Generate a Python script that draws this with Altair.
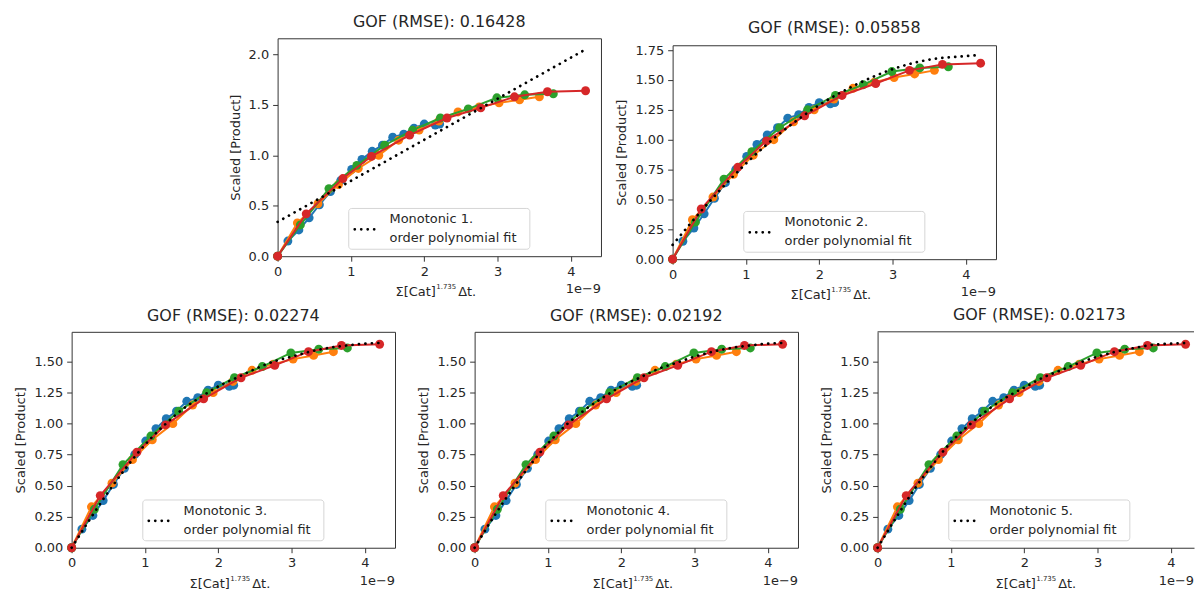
import altair as alt
import pandas as pd

# Four experiments: x is the cumulative sum of [Cat]^1.735 * dt (in units of 1e-9)
blue_x = [0, 0.14, 0.29, 0.43, 0.57, 0.72, 0.86, 1.01, 1.15, 1.29, 1.43, 1.57, 1.72, 1.86, 2.00, 2.15, 2.21]
blue_y = [0, 0.15, 0.26, 0.38, 0.51, 0.64, 0.75, 0.86, 0.96, 1.04, 1.10, 1.18, 1.21, 1.27, 1.31, 1.30, 1.31]

orange_x = [0, 0.27, 0.55, 0.83, 1.10, 1.38, 1.65, 1.93, 2.20, 2.46, 2.75, 3.02, 3.30, 3.57]
orange_y = [0, 0.33, 0.52, 0.71, 0.87, 1.00, 1.15, 1.25, 1.34, 1.43, 1.48, 1.52, 1.55, 1.58]

green_x = [0, 0.31, 0.70, 1.08, 1.46, 1.84, 2.22, 2.60, 2.99, 3.37, 3.76]
green_y = [0, 0.31, 0.67, 0.90, 1.10, 1.25, 1.37, 1.46, 1.57, 1.60, 1.61]

red_x = [0, 0.39, 0.89, 1.28, 1.80, 2.31, 2.77, 3.23, 3.68, 4.20]
red_y = [0, 0.42, 0.77, 0.99, 1.20, 1.37, 1.47, 1.58, 1.63, 1.64]

# Monotonic polynomial fits of order 1..5
fit1_x = [0, 4.2]
fit1_y = [0.34, 2.05]

fit2_x = [0, 0.5, 1.0, 1.5, 2.0, 2.5, 3.0, 3.5, 4.0, 4.2]
fit2_y = [0.12, 0.48, 0.80, 1.07, 1.29, 1.46, 1.59, 1.67, 1.70, 1.71]

fit_x = [0, 0.25, 0.5, 0.75, 1.0, 1.25, 1.5, 1.75, 2.0, 2.25, 2.5, 2.75, 3.0, 3.25, 3.5, 3.75, 4.0, 4.2]
fit3_y = [0, 0.23, 0.45, 0.65, 0.83, 0.98, 1.11, 1.21, 1.30, 1.37, 1.44, 1.50, 1.54, 1.58, 1.61, 1.63, 1.645, 1.65]
fit4_y = [0, 0.24, 0.46, 0.66, 0.84, 0.99, 1.11, 1.21, 1.30, 1.37, 1.44, 1.49, 1.54, 1.58, 1.61, 1.63, 1.645, 1.65]
fit5_y = [0, 0.24, 0.47, 0.67, 0.85, 0.99, 1.11, 1.21, 1.29, 1.37, 1.43, 1.49, 1.54, 1.58, 1.61, 1.635, 1.645, 1.65]

gof = ["0.16428", "0.05858", "0.02274", "0.02192", "0.02173"]
x_ticks = [0, 1, 2, 3, 4]

SERIES = [
    (blue_x, blue_y, "#1f77b4"),
    (orange_x, orange_y, "#ff7f0e"),
    (green_x, green_y, "#2ca02c"),
    (red_x, red_y, "#d62728"),
]

FONT = "DejaVu Sans"
INK = "#262626"
SPINE = "#333"
W = 325          # full axes width
X_MAX = 4.41     # x limit of a full-width axes
one = pd.DataFrame({"k": [0]})


def panel(order, fx, fy, height, y_max, y_ticks, y_fmt, w=W):
    # a narrower panel keeps the same px-per-unit and simply ends earlier (open on the right)
    open_right = w < W
    x_hi = X_MAX * w / W
    xs = alt.X("x:Q", scale=alt.Scale(domain=[0, x_hi], nice=False, zero=False),
               axis=alt.Axis(values=x_ticks, format="d", title=None, grid=False,
                             domain=open_right, domainColor=SPINE, domainWidth=1,
                             tickSize=5, tickColor=SPINE, labelPadding=4, labelFontSize=13,
                             labelFont=FONT, labelColor=INK, labelFlush=False))
    ys = alt.Y("y:Q", scale=alt.Scale(domain=[0, y_max], nice=False, zero=False),
               axis=alt.Axis(values=y_ticks, format=y_fmt, title="Scaled [Product]", grid=False,
                             domain=open_right, domainColor=SPINE, domainWidth=1,
                             tickSize=5, tickColor=SPINE, labelPadding=4,
                             labelFontSize=13, labelFont=FONT, labelColor=INK, titleFont=FONT,
                             titleFontSize=13, titleFontWeight="normal", titleColor=INK,
                             titlePadding=6, labelFlush=False))
    layers = []
    for sx, sy, col in SERIES:
        df = pd.DataFrame({"x": sx, "y": sy})
        layers.append(
            alt.Chart(df).mark_line(
                color=col, strokeWidth=2,
                point=alt.OverlayMarkDef(filled=True, size=80, color=col, opacity=1),
            ).encode(x=xs, y=ys)
        )
    fdf = pd.DataFrame({"x": fx, "y": fy})
    layers.append(
        alt.Chart(fdf).mark_line(color="black", strokeWidth=2.7, strokeDash=[0.1, 6.4],
                                 strokeCap="round", interpolate="monotone").encode(x=xs, y=ys)
    )
    if open_right:
        layers.append(
            alt.Chart(one).mark_rule(color=SPINE, strokeWidth=1)
            .encode(x=alt.value(0), x2=alt.value(w), y=alt.value(0))
        )

    # legend box, lower centre of the full axes
    bx0, bx1 = W / 2 - 91, W / 2 + 91
    by0, by1 = height - 48, height - 7
    layers.append(
        alt.Chart(one).mark_rect(fill="white", fillOpacity=0.8, stroke="#d5d5d5",
                                 strokeWidth=1, cornerRadius=3)
        .encode(x=alt.value(bx0), x2=alt.value(bx1), y=alt.value(by0), y2=alt.value(by1))
    )
    layers.append(
        alt.Chart(one).mark_rule(color="black", strokeWidth=2.7, strokeDash=[0.1, 6.4],
                                 strokeCap="round")
        .encode(x=alt.value(bx0 + 6), x2=alt.value(bx0 + 29), y=alt.value(by0 + 21))
    )
    for txt, dy in [(f"Monotonic {order}.", 11), ("order polynomial fit", 30)]:
        layers.append(
            alt.Chart(one).mark_text(text=txt, align="left", baseline="middle", font=FONT,
                                     fontSize=13, color=INK)
            .encode(x=alt.value(bx0 + 41), y=alt.value(by0 + dy))
        )

    # x-axis title with superscript exponent, and the offset multiplier
    cx = W / 2
    base = height + 40
    for txt, dx, size, dyy in [("Σ[Cat]", -44, 13, 0), ("1.735", -3, 7, -7), ("Δt.", 19, 13, 0)]:
        layers.append(
            alt.Chart(one).mark_text(text=txt, align="left", baseline="alphabetic", font=FONT,
                                     fontSize=size, color=INK)
            .encode(x=alt.value(cx + dx), y=alt.value(base + dyy))
        )
    layers.append(
        alt.Chart(one).mark_text(text="1e\u22129", align="right", baseline="middle", font=FONT,
                                 fontSize=13, color=INK)
        .encode(x=alt.value(w), y=alt.value(height + 33))
    )

    props = dict(
        width=w, height=height,
        title=alt.TitleParams(f"GOF (RMSE): {gof[order - 1]}", font=FONT, fontSize=16,
                              fontWeight="normal", color=INK, offset=8, dx=(W - w) / 2),
    )
    if open_right:
        props["view"] = alt.ViewBackground(stroke="transparent")
    return alt.layer(*layers).properties(**props)


def gap(w, h):
    return alt.Chart(one).mark_rule(opacity=0).encode(
        x=alt.value(0), x2=alt.value(w), y=alt.value(0)
    ).properties(width=w, height=h, view=alt.ViewBackground(stroke="transparent"))


y_q = [0, 0.25, 0.5, 0.75, 1.0, 1.25, 1.5, 1.75]

p1 = panel(1, fit1_x, fit1_y, 219, 2.16, [0, 0.5, 1.0, 1.5, 2.0], ".1f")
p2 = panel(2, fit2_x, fit2_y, 215, 1.79, y_q, ".2f")
p3 = panel(3, fit_x, fit3_y, 217, 1.74, y_q, ".2f")
p4 = panel(4, fit_x, fit4_y, 217, 1.74, y_q, ".2f")
p5 = panel(5, fit_x, fit5_y, 217, 1.74, y_q, ".2f", w=318)

# the second top panel sits a little lower than the first
c1 = alt.vconcat(gap(10, 1), p1, spacing=0)
c2 = alt.vconcat(gap(10, 7), p2, spacing=0)

top = alt.hconcat(gap(143, 1), c1, c2, spacing=13)
bottom = alt.hconcat(p3, p4, p5, spacing=21)

chart = alt.vconcat(top, bottom, spacing=4).properties(
    padding={"left": 14, "top": 9, "right": 0, "bottom": 0},
    background="white",
).configure_view(stroke=SPINE, strokeWidth=1)

chart.save("out.html", embed_options={"renderer": "svg", "actions": False})
